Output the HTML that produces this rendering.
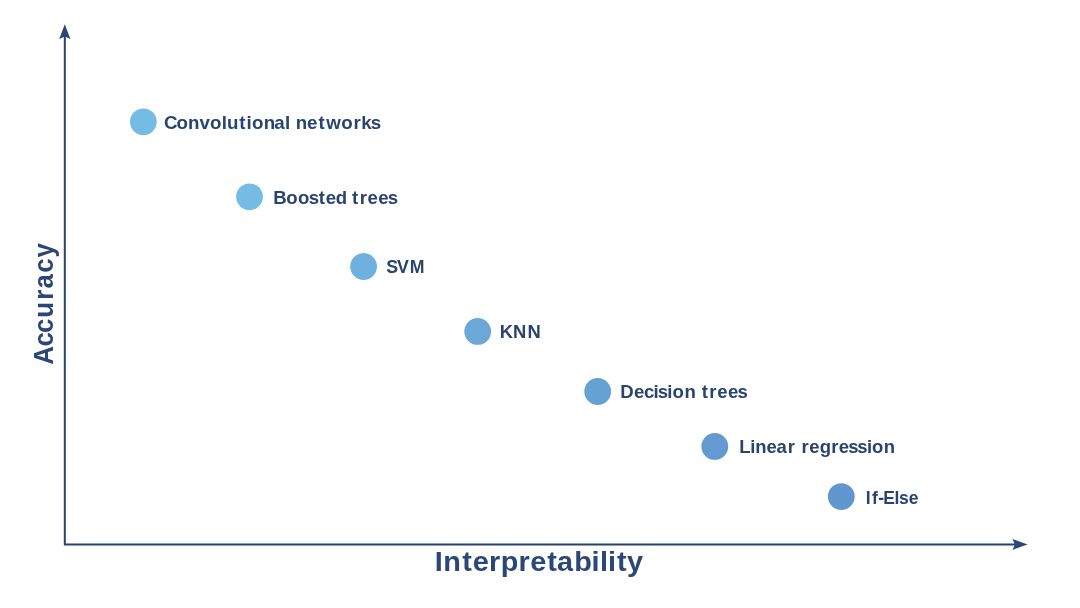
<!DOCTYPE html>
<html>
<head>
<meta charset="utf-8">
<title>Accuracy vs Interpretability</title>
<style>
  html, body { margin: 0; padding: 0; background: #ffffff; }
  body { width: 1080px; height: 608px; overflow: hidden; position: relative; }
  svg { position: absolute; left: 0; top: 0; display: block; will-change: transform; }
  text { font-family: "Liberation Sans", sans-serif; font-weight: bold; fill: #29446f; }
  .lbl { font-size: 18.6px; }
  .axis { font-size: 28.3px; fill: #2c4777; }
</style>
</head>
<body>
<svg width="1080" height="608" viewBox="0 0 1080 608">
  <!-- axes -->
  <path d="M64.8 35.5 L64.8 544.4 L1016 544.4" fill="none" stroke="#26426f" stroke-width="2" stroke-linejoin="round"/>
  <!-- y arrow head -->
  <path d="M64.8 24.3 L70.4 39.1 L64.8 36.4 L59.2 39.1 Z" fill="#2c4878"/>
  <!-- x arrow head -->
  <path d="M1027.6 544.4 L1012.4 538.9 L1014.9 544.4 L1012.4 549.9 Z" fill="#2c4878"/>

  <!-- points -->
  <circle cx="143.35" cy="121.85" r="13.4" fill="#75bce4"/>
  <circle cx="249.5" cy="196.8" r="13.4" fill="#75bce4"/>
  <circle cx="363.6" cy="266.5" r="13.4" fill="#6fb1de"/>
  <circle cx="477.7" cy="331.4" r="13.4" fill="#6ba8d8"/>
  <circle cx="597.7" cy="391.5" r="13.4" fill="#66a1d4"/>
  <circle cx="714.8" cy="446.4" r="13.4" fill="#6499d1"/>
  <circle cx="841.3" cy="496.6" r="13.4" fill="#6296cf"/>

  <!-- labels -->
  <text id="t1" class="lbl" transform="translate(0 128.9) scale(1.008 1)" x="162.65 175.07 186.59 197.91 208.46 220.09 225.26 237.38 244.65 249.97 261.59 272.13 282.84 288.01 293.49 304.65 315.95 323.68 338.57 350.67 358.41 367.85">Convolutional networks</text>
  <text id="t2" class="lbl" transform="translate(0 203.75) scale(1.0 1)" x="273.33 286.22 297.94 308.63 318.75 325.83 335.80 347.16 352.05 359.66 367.53 378.18 387.73">Boosted trees</text>
  <text id="t3" class="lbl" transform="translate(0 273.25) scale(0.953 1)" x="405.22 416.57 430.03">SVM</text>
  <text id="t4" class="lbl" transform="translate(0 338.05) scale(0.989 1)" x="505.39 518.82 533.43">KNN</text>
  <text id="t5" class="lbl" transform="translate(0 398.3) scale(1.0 1)" x="620.30 633.91 643.89 653.55 657.73 667.30 672.52 684.46 695.82 701.75 709.33 717.16 727.96 737.58">Decision trees</text>
  <text id="t6" class="lbl" transform="translate(0 453.0) scale(0.994 1)" x="743.78 754.77 759.88 771.12 781.22 792.44 799.68 806.47 814.25 824.64 836.25 843.78 853.43 862.34 872.17 877.27 889.20">Linear regression</text>
  <text id="t7" class="lbl" transform="translate(0 503.6) scale(0.943 1)" x="918.09 924.67 931.22 936.54 948.54 953.37 963.66">If-Else</text>

  <!-- axis titles -->
  <text id="tx" class="axis" transform="translate(0 570.5) scale(1.02 1)" x="426.26 434.59 453.18 463.43 479.51 491.00 508.43 519.76 536.51 546.18 562.92 580.00 588.14 596.18 604.94 614.64">Interpretability</text>
  <text id="ty" class="axis" transform="translate(52.7 400) rotate(-90) scale(0.91 1)" x="38.70 58.75 73.70 90.48 110.31 122.62 139.74 156.60">Accuracy</text>
</svg>
</body>
</html>
